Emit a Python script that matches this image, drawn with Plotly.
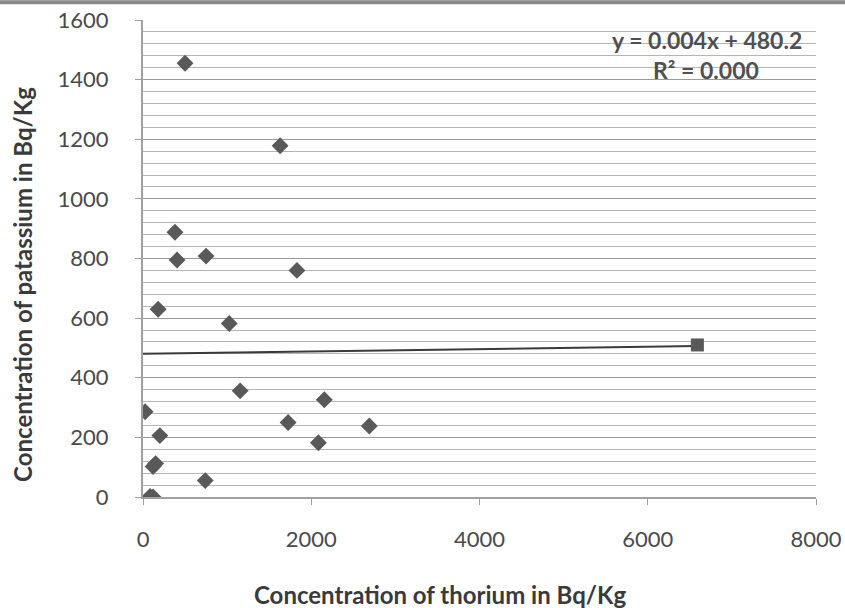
import plotly.graph_objects as go

# Data
thorium = [500, 1630, 380, 405, 750, 1830, 180, 1025, 1155, 2155, 25, 1725,
           2690, 200, 2085, 120, 150, 740, 85, 120, 6590]
potassium = [1455, 1178, 888, 795, 808, 760, 630, 582, 356, 326, 286, 250,
             238, 206, 182, 102, 112, 55, 2, 0, 510]
symbols = ["diamond"] * 20 + ["square"]

trend_slope = 0.004
trend_intercept = 480.2
trend_x = [0, max(thorium)]
trend_y = [trend_intercept + trend_slope * v for v in trend_x]

x_ticks = [0, 2000, 4000, 6000, 8000]
y_ticks = [0, 200, 400, 600, 800, 1000, 1200, 1400, 1600]

fig = go.Figure()
fig.add_trace(go.Scatter(
    x=trend_x, y=trend_y, mode="lines",
    line=dict(color="#3a3a3a", width=2), showlegend=False, hoverinfo="skip"))
fig.add_trace(go.Scatter(
    x=thorium, y=potassium, mode="markers",
    marker=dict(symbol=symbols, size=13, color="#595959", line=dict(width=0)),
    showlegend=False))

font_family = "Lato, 'Open Sans', sans-serif"

fig.update_layout(
    width=845, height=608,
    margin=dict(l=143, r=29, t=20, b=111, autoexpand=False),
    paper_bgcolor="white", plot_bgcolor="white",
    font=dict(family=font_family, color="#555555"),
    xaxis=dict(
        range=[0, 8000], tickvals=x_ticks, showgrid=False, zeroline=False,
        showline=True, linecolor="#a0a0a0", linewidth=2,
        ticks="outside", ticklen=6, tickcolor="#a0a0a0",
        ticklabelstandoff=16, automargin=False,
        tickfont=dict(size=22, color="#4a4a4a"),
    ),
    yaxis=dict(
        range=[0, 1600], tickvals=y_ticks, showgrid=True,
        gridcolor="#9a9a9a", gridwidth=1.3, zeroline=False,
        showline=True, linecolor="#a0a0a0", linewidth=2,
        ticks="outside", ticklen=6, tickcolor="#a0a0a0",
        ticklabelstandoff=22, automargin=False,
        tickfont=dict(size=22, color="#4a4a4a"),
        minor=dict(dtick=40, showgrid=True, gridcolor="#b5b5b5", gridwidth=1),
    ),
    annotations=[
        dict(x=0.838, y=0.958, xref="paper", yref="paper", showarrow=False,
             xanchor="center", yanchor="middle",
             text="<b>y = 0.004x + 480.2</b>", font=dict(size=23, color="#505050")),
        dict(x=0.836, y=0.895, xref="paper", yref="paper", showarrow=False,
             xanchor="center", yanchor="middle",
             text="<b>R² = 0.000</b>", font=dict(size=23, color="#505050")),
        dict(x=0.441, y=-0.205, xref="paper", yref="paper", showarrow=False,
             xanchor="center", yanchor="middle",
             text="<b>Concentration of thorium in Bq/Kg</b>",
             font=dict(size=24, color="#3a3a3a")),
        dict(x=-0.18, y=0.4465, xref="paper", yref="paper", showarrow=False,
             xanchor="center", yanchor="middle", textangle=-90,
             text="<b>Concentration of patassium in Bq/Kg</b>",
             font=dict(size=24, color="#3a3a3a")),
    ],
    shapes=[
        dict(type="line", xref="paper", yref="paper", x0=-0.25, x1=1.05,
             y0=1.037, y1=1.037, line=dict(color="#8a8a8a", width=4)),
    ],
)

fig.write_html("out.html", config={"displayModeBar": False},
               post_script="document.body.style.margin='0';document.body.style.overflow='hidden';")
